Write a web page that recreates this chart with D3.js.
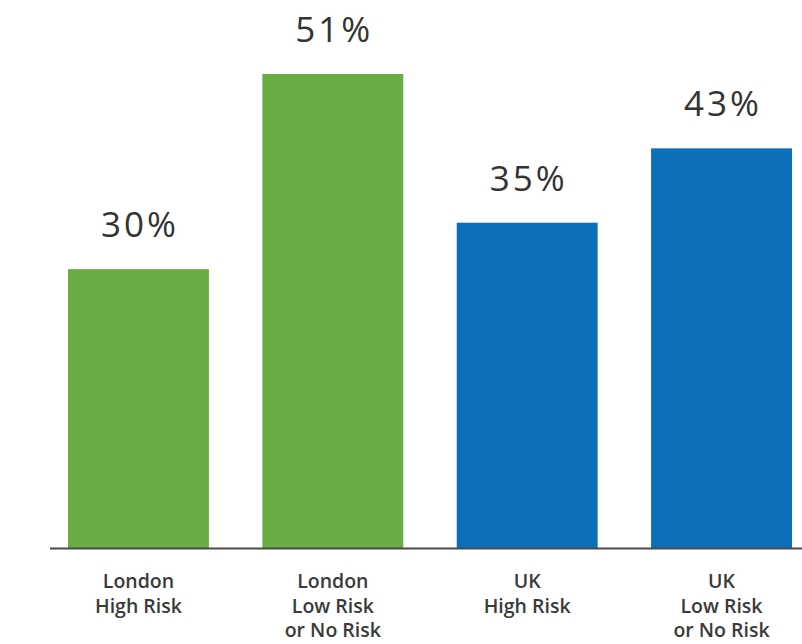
<!DOCTYPE html>
<head>
  <meta charset='utf-8'>
  <title>Risk bars</title>
  <style>
    body { margin: 0; background: #fff; }
    svg text { font-family: "Open Sans", sans-serif; fill: #333; text-anchor: middle; }
    .value { font-size: 35px; letter-spacing: 3px; }
    .cat { font-size: 19.5px; font-weight: 600; fill: #3a3a3a; }
  </style>
</head>
<body>
  <div id="chart"></div>
  <script src="https://cdnjs.cloudflare.com/ajax/libs/d3/7.8.5/d3.min.js"></script>
  <script>
    var categories = ["London High Risk", "London Low Risk or No Risk", "UK High Risk", "UK Low Risk or No Risk"];
    var labelLines = [["London", "High Risk"], ["London", "Low Risk", "or No Risk"], ["UK", "High Risk"], ["UK", "Low Risk", "or No Risk"]];
    var values = [30, 51, 35, 43];
    var colours = ["#6aac44", "#6aac44", "#0b70b9", "#0b70b9"];

    var width = 802,
        height = 644,
        baseY = 548;

    var svg = d3.select("#chart").append("svg")
        .attr("width", width)
        .attr("height", height);

    var x = d3.scaleBand()
        .domain(categories)
        .range([68, 792])
        .paddingInner(0.275)
        .paddingOuter(0);

    var y = d3.scaleLinear()
        .domain([0, 51])
        .range([baseY, 74]);

    svg.selectAll(".bar")
        .data(values)
      .enter().append("rect")
        .attr("class", "bar")
        .attr("x", function(d, i) { return x(categories[i]); })
        .attr("y", function(d) { return y(d); })
        .attr("width", x.bandwidth())
        .attr("height", function(d) { return baseY - y(d); })
        .style("fill", function(d, i) { return colours[i]; });

    svg.selectAll(".value")
        .data(values)
      .enter().append("text")
        .attr("class", "value")
        .attr("x", function(d, i) { return x(categories[i]) + x.bandwidth() / 2 + 1.5; })
        .attr("y", function(d) { return y(d) - 32; })
        .text(function(d) { return d + "%"; });

    // baseline
    svg.append("line")
        .attr("x1", 50)
        .attr("x2", width)
        .attr("y1", baseY + 0.5)
        .attr("y2", baseY + 0.5)
        .style("stroke", "#4a4a4a")
        .style("stroke-width", 2);

    var cats = svg.selectAll(".cat")
        .data(categories)
      .enter().append("text")
        .attr("class", "cat")
        .attr("x", function(d) { return x(d) + x.bandwidth() / 2; })
        .attr("y", 588);

    cats.selectAll("tspan")
        .data(function(d, i) { return labelLines[i]; })
      .enter().append("tspan")
        .attr("x", function() { return d3.select(this.parentNode).attr("x"); })
        .attr("dy", function(d, i) { return i === 0 ? 0 : 24.5; })
        .text(function(d) { return d; });
  </script>
</body>
